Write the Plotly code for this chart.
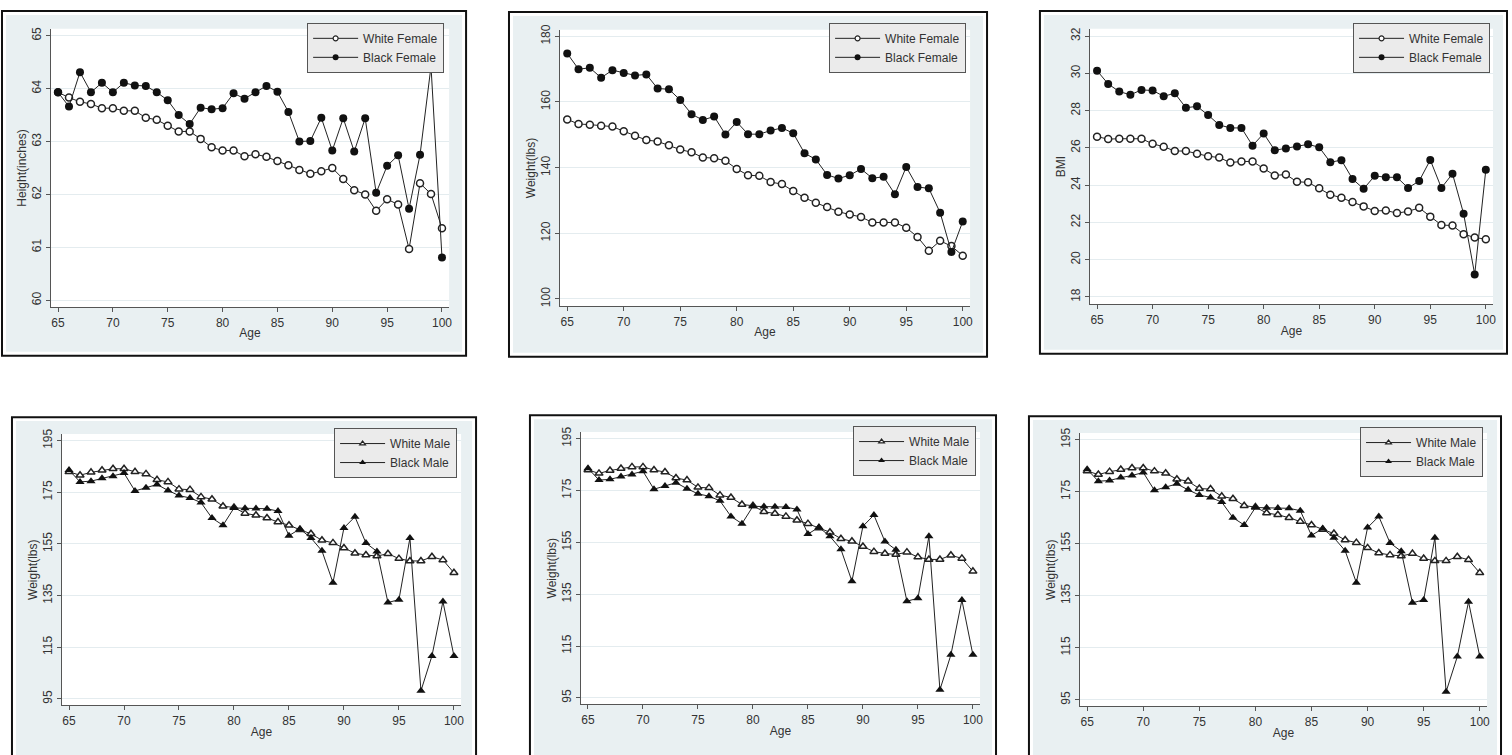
import plotly.graph_objects as go

W, H = 1512, 755

ages = list(range(65, 101))

# Panel 1: Height (inches), females
height_white_female = [63.93, 63.83, 63.75, 63.71, 63.63, 63.63, 63.58, 63.58, 63.45, 63.41,
                       63.30, 63.19, 63.19, 63.05, 62.89, 62.83, 62.83, 62.72, 62.76, 62.71,
                       62.63, 62.55, 62.46, 62.39, 62.44, 62.50, 62.29, 62.08, 62.00, 61.69,
                       61.91, 61.81, 60.97, 62.21, 62.01, 61.36]
height_black_female = [63.93, 63.66, 64.31, 63.93, 64.11, 63.93, 64.11, 64.06, 64.05, 63.93,
                       63.78, 63.50, 63.33, 63.64, 63.61, 63.63, 63.91, 63.81, 63.93, 64.05,
                       63.94, 63.56, 63.00, 63.01, 63.45, 62.83, 63.44, 62.81, 63.44, 62.03,
                       62.54, 62.74, 61.73, 62.75, 64.42, 60.81]

# Panel 2: Weight (lbs), females
weight_white_female = [154.7, 153.3, 153.1, 152.8, 152.5, 151.1, 149.7, 148.4, 148.0, 146.8,
                       145.5, 144.7, 143.1, 142.9, 142.1, 139.6, 137.7, 137.5, 135.6, 135.0,
                       132.9, 130.8, 129.3, 128.0, 126.6, 125.7, 125.0, 123.3, 123.3, 123.3,
                       121.7, 118.9, 114.7, 117.7, 116.1, 113.2]
weight_black_female = [174.8, 170.0, 170.4, 167.4, 169.7, 168.8, 168.1, 168.4, 164.1, 163.9,
                       160.6, 156.3, 154.5, 155.6, 150.1, 153.9, 150.2, 150.2, 151.3, 152.1,
                       150.5, 144.4, 142.5, 137.8, 136.7, 137.7, 139.6, 136.8, 137.2, 131.9,
                       140.2, 134.1, 133.7, 126.3, 114.3, 123.6]

# Panel 3: BMI, females
bmi_white_female = [26.60, 26.47, 26.49, 26.49, 26.49, 26.22, 26.06, 25.83, 25.83, 25.69,
                    25.55, 25.48, 25.21, 25.27, 25.27, 24.89, 24.52, 24.57, 24.18, 24.15,
                    23.83, 23.49, 23.32, 23.10, 22.86, 22.61, 22.64, 22.50, 22.59, 22.78,
                    22.31, 21.86, 21.83, 21.37, 21.19, 21.10]
bmi_black_female = [30.14, 29.43, 29.02, 28.85, 29.11, 29.08, 28.77, 28.93, 28.15, 28.23,
                    27.76, 27.23, 27.07, 27.07, 26.12, 26.77, 25.87, 25.97, 26.08, 26.19,
                    26.03, 25.23, 25.34, 24.33, 23.80, 24.50, 24.42, 24.42, 23.85, 24.22,
                    25.35, 23.85, 24.61, 22.47, 19.21, 24.82]

# Panels 4-6: Weight (lbs), males
weight_white_male = [182.9, 181.6, 182.7, 183.5, 184.1, 184.1, 182.9, 182.1, 179.8, 179.0,
                     176.2, 176.0, 173.2, 172.3, 169.6, 169.1, 166.8, 166.1, 165.0, 163.5,
                     162.2, 160.5, 158.9, 156.4, 155.4, 153.4, 151.4, 150.7, 150.3, 151.2,
                     149.3, 148.4, 148.4, 150.0, 148.8, 143.8]
weight_black_male = [183.6, 179.0, 179.3, 180.4, 181.2, 182.4, 175.5, 176.7, 178.0, 175.7,
                     173.7, 172.8, 171.0, 165.0, 162.2, 168.9, 168.8, 168.7, 168.6, 167.7,
                     158.2, 160.8, 157.3, 152.3, 140.0, 161.2, 165.5, 155.3, 152.1, 132.3,
                     133.4, 157.3, 98.1, 111.6, 132.7, 111.6]

x_ticks = [65, 70, 75, 80, 85, 90, 95, 100]
y_ticks_height = [60, 61, 62, 63, 64, 65]
y_ticks_wf = [100, 120, 140, 160, 180]
y_ticks_bmi = [18, 20, 22, 24, 26, 28, 30, 32]
y_ticks_wm = [95, 115, 135, 155, 175, 195]

female_names = ["White Female", "Black Female"]
male_names = ["White Male", "Black Male"]

# layout geometry in pixels
panels = [
    dict(plot=(51, 450, 23, 304), yr=(59.87, 65.13), yt=y_ticks_height, ytitle="Height(inches)",
         series=(height_white_female, height_black_female), names=female_names, sym="circle",
         border=(2, 467, 5, 353), bg=(6, 463, 9, 349), leg=(445, 17)),
    dict(plot=(561, 972, 24, 303), yr=(97.8, 182.0), yt=y_ticks_wf, ytitle="Weight(lbs)",
         series=(weight_white_female, weight_black_female), names=female_names, sym="circle",
         border=(510, 989, 6, 354), bg=(514, 985, 10, 350), leg=(968, 17)),
    dict(plot=(1092, 1496, 23, 301), yr=(17.61, 32.39), yt=y_ticks_bmi, ytitle="BMI",
         series=(bmi_white_female, bmi_black_female), names=female_names, sym="circle",
         border=(1042, 1510, 5, 351), bg=(1046, 1506, 9, 347), leg=(1493, 17)),
    dict(plot=(62, 462, 432, 706), yr=(92.45, 197.55), yt=y_ticks_wm, ytitle="Weight(lbs)",
         series=(weight_white_male, weight_black_male), names=male_names, sym="triangle-up",
         border=(12, 477, 415, 790), bg=(16, 473, 419, 790), leg=(458, 426)),
    dict(plot=(582, 982, 430, 705), yr=(92.45, 197.55), yt=y_ticks_wm, ytitle="Weight(lbs)",
         series=(weight_white_male, weight_black_male), names=male_names, sym="triangle-up",
         border=(531, 998, 413, 790), bg=(535, 994, 417, 790), leg=(978, 424)),
    dict(plot=(1082, 1490, 431, 707), yr=(92.45, 197.55), yt=y_ticks_wm, ytitle="Weight(lbs)",
         series=(weight_white_male, weight_black_male), names=male_names, sym="triangle-up",
         border=(1031, 1504, 414, 790), bg=(1035, 1500, 418, 790), leg=(1486, 425)),
]


def fx(px):
    return px / W


def fy(py):
    return 1 - py / H


FONT = "Liberation Sans, Arial, Helvetica, sans-serif"
LINE = "#222222"
GRID = "#e4ecef"
BG = "#e9f0f2"
AXIS = "#555555"

fig = go.Figure()
shapes = []
layout = {}

for i, p in enumerate(panels, start=1):
    xa = "x" if i == 1 else f"x{i}"
    ya = "y" if i == 1 else f"y{i}"
    xkey = "xaxis" if i == 1 else f"xaxis{i}"
    ykey = "yaxis" if i == 1 else f"yaxis{i}"
    lg = "legend" if i == 1 else f"legend{i}"

    x0, x1, y0, y1 = p["plot"]
    layout[xkey] = dict(
        domain=[fx(x0), fx(x1)], anchor=ya, range=[64.35, 100.65],
        tickvals=x_ticks, ticks="outside", ticklen=4, tickcolor=AXIS,
        showline=True, linecolor=AXIS, linewidth=1, showgrid=False, zeroline=False,
        tickfont=dict(family=FONT, size=12, color="#333333"),
        title=dict(text="Age", font=dict(family=FONT, size=12, color="#333333"), standoff=0),
    )
    layout[ykey] = dict(
        domain=[fy(y1), fy(y0)], anchor=xa, range=list(p["yr"]),
        tickvals=p["yt"], ticks="outside", ticklen=4, tickcolor=AXIS, tickangle=-90,
        showline=True, linecolor=AXIS, linewidth=1, showgrid=True, gridcolor=GRID,
        gridwidth=1, zeroline=False,
        tickfont=dict(family=FONT, size=12, color="#333333"),
        title=dict(text=p["ytitle"], font=dict(family=FONT, size=12, color="#333333"), standoff=0),
    )
    lx, ly = p["leg"]
    layout[lg] = dict(
        x=fx(lx), y=fy(ly), xanchor="right", yanchor="top",
        bgcolor="#ebebeb", bordercolor="#555555", borderwidth=1,
        font=dict(family=FONT, size=12, color="#333333"),
        itemwidth=45, tracegroupgap=0, itemclick=False,
    )

    # panel frame, background and plot region
    bx0, bx1, by0, by1 = p["border"]
    gx0, gx1, gy0, gy1 = p["bg"]
    shapes.append(dict(type="rect", xref="paper", yref="paper", layer="below",
                       x0=fx(bx0), x1=fx(bx1), y0=fy(by1), y1=fy(by0),
                       line=dict(color="#111111", width=2), fillcolor="white"))
    shapes.append(dict(type="rect", xref="paper", yref="paper", layer="below",
                       x0=fx(gx0), x1=fx(gx1), y0=fy(gy1), y1=fy(gy0),
                       line=dict(width=0), fillcolor=BG))
    shapes.append(dict(type="rect", xref="paper", yref="paper", layer="below",
                       x0=fx(x0), x1=fx(x1), y0=fy(y1), y1=fy(y0),
                       line=dict(width=0), fillcolor="white"))

    white, black = p["series"]
    sym = p["sym"]
    fig.add_trace(go.Scatter(
        x=ages, y=white, mode="lines+markers", name=p["names"][0], showlegend=False,
        xaxis=xa, yaxis=ya, line=dict(color=LINE, width=1),
        marker=dict(symbol=sym, size=7, color="white", line=dict(color=LINE, width=1.5)),
    ))
    fig.add_trace(go.Scatter(
        x=ages, y=black, mode="lines+markers", name=p["names"][1], showlegend=False,
        xaxis=xa, yaxis=ya, line=dict(color=LINE, width=1),
        marker=dict(symbol=sym, size=8, color="#111111", line=dict(color="#111111", width=0)),
    ))
    # legend entries (smaller keys, as in the original)
    fig.add_trace(go.Scatter(
        x=[None], y=[None], mode="lines+markers", name=p["names"][0], legend=lg,
        xaxis=xa, yaxis=ya, line=dict(color=LINE, width=1),
        marker=dict(symbol=sym, size=5, color="white", line=dict(color=LINE, width=1.2)),
    ))
    fig.add_trace(go.Scatter(
        x=[None], y=[None], mode="lines+markers", name=p["names"][1], legend=lg,
        xaxis=xa, yaxis=ya, line=dict(color=LINE, width=1),
        marker=dict(symbol=sym, size=6, color="#111111"),
    ))

fig.update_layout(
    width=W, height=H, margin=dict(l=0, r=0, t=0, b=0),
    paper_bgcolor="white", plot_bgcolor="rgba(0,0,0,0)",
    shapes=shapes, hovermode=False, showlegend=True,
    **layout,
)

fig.write_html(
    "out.html",
    config={"displayModeBar": False},
    post_script="document.body.style.margin='0';document.body.style.overflow='hidden';",
)
